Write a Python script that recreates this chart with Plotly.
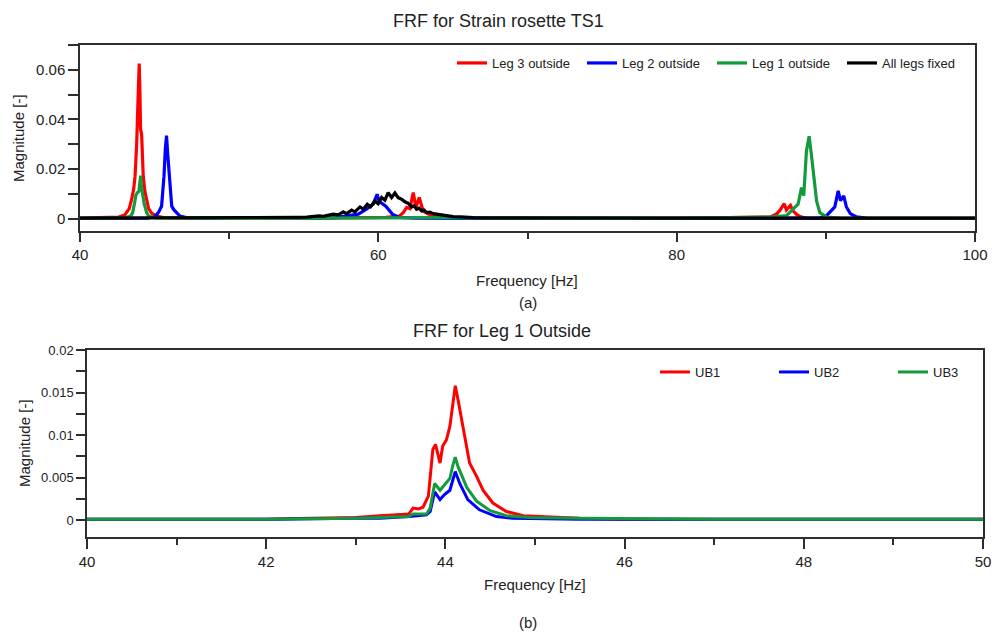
import plotly.graph_objects as go

W, H = 997, 632

# ---------------- Panel (a): FRF for Strain rosette TS1 ----------------
f_red = [40, 42.0, 42.6, 43.0, 43.3, 43.46, 43.6, 43.69, 43.8, 43.9,
         43.97, 44.02, 44.06, 44.13, 44.24, 44.35, 44.47, 44.6, 44.8, 45.1,
         45.6, 48, 55, 59, 60.5, 61.4, 61.67, 61.9, 62.12, 62.34,
         62.52, 62.74, 63.01, 63.35, 63.9, 65, 70, 80, 86.25, 86.7,
         86.92, 87.21, 87.36, 87.63, 87.81, 88.08, 88.37, 88.7, 90, 100]
m_red = [0.0002, 0.0003, 0.0006, 0.0015, 0.004, 0.0077, 0.012, 0.017, 0.03, 0.05,
         0.0625, 0.05, 0.036, 0.034, 0.017, 0.011, 0.0077, 0.004, 0.0022, 0.001,
         0.0004, 0.0002, 0.0002, 0.0004, 0.0005, 0.001, 0.0024, 0.0045, 0.004, 0.0105,
         0.0045, 0.0085, 0.003, 0.0018, 0.0008, 0.0003, 0.0001, 0.0001, 0.0006, 0.0019,
         0.0033, 0.006, 0.0035, 0.0053, 0.003, 0.0015, 0.0006, 0.0002, 0.0001, 0.0001]

f_blue = [40, 44.5, 45.0, 45.25, 45.47, 45.63, 45.72, 45.8, 45.88, 45.99,
          46.15, 46.3, 46.48, 46.7, 47.2, 52, 57, 58.66, 59.2, 59.65,
          59.92, 60.05, 60.5, 60.94, 61.4, 62.5, 66, 80, 89.6, 90.05,
          90.38, 90.6, 90.83, 90.98, 91.2, 91.38, 91.64, 92.05, 92.7, 100]
m_blue = [0.0001, 0.0002, 0.0006, 0.0024, 0.005, 0.017, 0.028, 0.0335, 0.026, 0.017,
          0.005, 0.0035, 0.0024, 0.001, 0.0003, 0.0001, 0.0003, 0.0018, 0.0038, 0.0058,
          0.0098, 0.007, 0.005, 0.0018, 0.0005, 0.0002, 0.0001, 0.0001, 0.0002, 0.0012,
          0.0033, 0.0047, 0.0112, 0.0072, 0.0092, 0.0047, 0.002, 0.0007, 0.0002, 0.0001]

f_green = [40, 43.0, 43.4, 43.53, 43.65, 43.75, 43.85, 43.95, 44.0, 44.07,
           44.12, 44.2, 44.3, 44.47, 44.6, 45.0, 50, 56, 60, 64,
           68, 80, 86.25, 87.36, 87.92, 88.14, 88.37, 88.52, 88.7, 88.88,
           89.03, 89.2, 89.38, 89.6, 90.05, 90.94, 100]
m_green = [0.0001, 0.0003, 0.001, 0.0024, 0.006, 0.0095, 0.0105, 0.011, 0.014, 0.0173,
           0.013, 0.01, 0.006, 0.0024, 0.001, 0.0003, 0.0001, 0.0002, 0.0004, 0.0004,
           0.0002, 0.0001, 0.0006, 0.0012, 0.0045, 0.0058, 0.0125, 0.0093, 0.0273, 0.0332,
           0.0259, 0.0153, 0.0071, 0.0024, 0.0006, 0.0002, 0.0001]

f_black = [40, 44, 48, 50, 52, 53.5, 54.5, 55.2, 55.64, 56.0,
           56.31, 56.6, 56.98, 57.31, 57.65, 57.87, 58.21, 58.43, 58.77, 58.99,
           59.26, 59.48, 59.77, 59.99, 60.22, 60.44, 60.66, 60.89, 61.11, 61.33,
           61.56, 61.78, 62.0, 62.23, 62.4, 62.56, 62.73, 62.9, 63.07, 63.24,
           63.46, 63.68, 64.13, 64.5, 65.02, 65.5, 66.36, 68, 72, 80,
           90, 100]
m_black = [0.0002, 0.0002, 0.0002, 0.0003, 0.0003, 0.0004, 0.0005, 0.0006, 0.0008, 0.0011,
           0.0009, 0.0014, 0.0018, 0.0015, 0.0027, 0.002, 0.0034, 0.0027, 0.0047, 0.0038,
           0.0058, 0.0048, 0.0071, 0.006, 0.0085, 0.0074, 0.0105, 0.0085, 0.0103, 0.0084,
           0.0078, 0.0068, 0.0062, 0.0047, 0.0052, 0.0038, 0.0042, 0.0031, 0.0034, 0.0024,
           0.0026, 0.002, 0.0015, 0.0013, 0.0008, 0.0007, 0.0004, 0.0003, 0.0002, 0.0002,
           0.0002, 0.0002]

names_a = ["Leg 3 outside", "Leg 2 outside", "Leg 1 outside", "All legs fixed"]
xticks_a = [40, 60, 80, 100]
yticks_a = [0, 0.02, 0.04, 0.06]
yticklabels_a = ["0", "0.02", "0.04", "0.06"]

# ---------------- Panel (b): FRF for Leg 1 Outside ----------------
f_ub1 = [40, 41, 42, 42.5, 43.0, 43.27, 43.42, 43.59, 43.64, 43.7,
         43.75, 43.81, 43.86, 43.89, 43.94, 43.97, 44.01, 44.05, 44.07, 44.11,
         44.14, 44.2, 44.27, 44.35, 44.42, 44.53, 44.68, 44.87, 45.2, 45.5,
         46, 47, 48, 49, 50]
m_ub1 = [0.0001, 0.0001, 0.0001, 0.0002, 0.0003, 0.0005, 0.0006, 0.0007, 0.0014, 0.0013,
         0.0015, 0.0028, 0.0083, 0.0089, 0.0067, 0.0087, 0.0094, 0.011, 0.0126, 0.0158,
         0.0142, 0.0106, 0.0067, 0.0051, 0.0035, 0.002, 0.001, 0.0005, 0.0003, 0.0002,
         0.0001, 0.0001, 0.0001, 0.0001, 0.0001]

f_ub2 = [40, 42, 43.0, 43.27, 43.6, 43.79, 43.83, 43.88, 43.94, 43.99,
         44.05, 44.11, 44.16, 44.25, 44.38, 44.57, 44.75, 45.5, 47, 50]
m_ub2 = [0.0001, 0.0001, 0.0002, 0.0002, 0.0004, 0.0006, 0.001, 0.0033, 0.0024, 0.003,
         0.0035, 0.0057, 0.0043, 0.0024, 0.0012, 0.0004, 0.0002, 0.0001, 0.0001, 0.0001]

f_ub3 = [40, 42, 43.0, 43.27, 43.59, 43.64, 43.79, 43.83, 43.88, 43.94,
         43.99, 44.05, 44.08, 44.11, 44.14, 44.24, 44.35, 44.5, 44.68, 44.94,
         45.5, 47, 50]
m_ub3 = [0.0001, 0.0001, 0.0002, 0.0003, 0.0004, 0.0007, 0.0007, 0.0014, 0.0043, 0.0035,
         0.0041, 0.0049, 0.0063, 0.0074, 0.0063, 0.0038, 0.0022, 0.0011, 0.0005, 0.0003,
         0.0002, 0.0001, 0.0001]

names_b = ["UB1", "UB2", "UB3"]
xticks_b = [40, 42, 44, 46, 48, 50]
yticks_b = [0, 0.005, 0.01, 0.015, 0.02]
yticklabels_b = ["0", "0.005", "0.01", "0.015", "0.02"]

RED, BLUE, GREEN, BLACK = "#ff0000", "#0000ff", "#129a3c", "#000000"
AX = "#2e2e2e"
FONT = "Liberation Sans, Arial, sans-serif"

fig = go.Figure()
for f, m, n, c in [(f_red, m_red, names_a[0], RED), (f_blue, m_blue, names_a[1], BLUE),
                   (f_green, m_green, names_a[2], GREEN), (f_black, m_black, names_a[3], BLACK)]:
    fig.add_trace(go.Scatter(x=f, y=m, name=n, mode="lines", line=dict(color=c, width=3.2),
                             xaxis="x", yaxis="y", legend="legend"))
for f, m, n, c in [(f_ub1, m_ub1, names_b[0], RED), (f_ub2, m_ub2, names_b[1], BLUE),
                   (f_ub3, m_ub3, names_b[2], GREEN)]:
    fig.add_trace(go.Scatter(x=f, y=m, name=n, mode="lines", line=dict(color=c, width=3),
                             xaxis="x2", yaxis="y2", legend="legend2"))


def px_x(p):
    return p / W


def px_y(p):
    return 1 - p / H


dom_xa = [px_x(80), px_x(975)]
dom_ya = [px_y(231), px_y(45)]
dom_xb = [px_x(87), px_x(983)]
dom_yb = [px_y(537), px_y(350)]

common = dict(showgrid=False, zeroline=False, showline=True, linecolor=AX, linewidth=1.5,
              tickcolor=AX, tickwidth=1.5, tickfont=dict(family=FONT, size=15, color="#222"),
              automargin=False)

fig.update_layout(
    width=W, height=H, margin=dict(l=0, r=0, t=0, b=0, autoexpand=False),
    paper_bgcolor="white", plot_bgcolor="white",
    font=dict(family=FONT, color="#222"),
    xaxis=dict(domain=dom_xa, anchor="y", range=[40, 100], mirror=True, ticks="outside",
               tickmode="array", tickvals=xticks_a, ticklen=9,
               minor=dict(tickmode="array", tickvals=[50, 70, 90], ticks="outside", ticklen=6,
                          tickcolor=AX, tickwidth=1.5),
               **common),
    yaxis=dict(domain=dom_ya, anchor="x", range=[-0.005, 0.07], mirror=True, ticks="outside",
               tickmode="array", tickvals=yticks_a, ticktext=yticklabels_a, ticklen=10,
               minor=dict(tickmode="array", tickvals=[0.01, 0.03, 0.05, 0.07], ticks="outside",
                          ticklen=10, tickcolor=AX, tickwidth=1.5),
               **common),
    xaxis3=dict(overlaying="x", anchor="y", side="top", range=[40, 100], showgrid=False,
                zeroline=False, showline=False, showticklabels=False, ticks="inside",
                tickmode="array", tickvals=[55, 85], ticklen=17, tickcolor=AX, tickwidth=1.5,
                minor=dict(tickmode="array", tickvals=[47.5, 62.5, 70, 77.5, 92.5],
                           ticks="inside", ticklen=9, tickcolor=AX, tickwidth=1.5)),
    yaxis3=dict(overlaying="y", anchor="x", side="right", range=[-0.005, 0.07], showgrid=False,
                zeroline=False, showline=False, showticklabels=False, ticks="inside",
                tickmode="array", tickvals=[0.01, 0.025, 0.04, 0.055], ticklen=18,
                tickcolor=AX, tickwidth=1.5,
                minor=dict(tickmode="array", tickvals=[0.0025, 0.0175, 0.0325, 0.0475, 0.0625],
                           ticks="inside", ticklen=10, tickcolor=AX, tickwidth=1.5)),
    xaxis2=dict(domain=dom_xb, anchor="y2", range=[40, 50], mirror=True, ticks="outside",
                tickmode="array", tickvals=xticks_b, ticklen=10,
                minor=dict(tickmode="array", tickvals=[41, 43, 45, 47, 49], ticks="outside",
                           ticklen=6, tickcolor=AX, tickwidth=1.5),
                **common),
    yaxis2=dict(domain=dom_yb, anchor="x2", range=[-0.002, 0.02], mirror=True, ticks="outside",
                tickmode="array", tickvals=yticks_b, ticktext=yticklabels_b, ticklen=9,
                minor=dict(tickmode="array", tickvals=[0.0025, 0.0075, 0.0125, 0.0175],
                           ticks="outside", ticklen=9, tickcolor=AX, tickwidth=1.5),
                **{k: v for k, v in common.items() if k != "tickfont"},
                tickfont=dict(family=FONT, size=13, color="#222")),
    xaxis4=dict(overlaying="x2", anchor="y2", side="top", range=[40, 50], showgrid=False,
                zeroline=False, showline=False, showticklabels=False, ticks="inside",
                tickmode="array", tickvals=[42.5, 45, 47.5], ticklen=18, tickcolor=AX,
                tickwidth=1.5,
                minor=dict(tickmode="array", tickvals=[41.25, 43.75, 46.25, 48.75],
                           ticks="inside", ticklen=10, tickcolor=AX, tickwidth=1.5)),
    yaxis4=dict(overlaying="y2", anchor="x2", side="right", range=[-0.002, 0.02], showgrid=False,
                zeroline=False, showline=False, showticklabels=False, ticks="inside",
                tickmode="array", tickvals=[0.0025, 0.007, 0.016], ticklen=19, tickcolor=AX,
                tickwidth=1.5,
                minor=dict(tickmode="array",
                           tickvals=[0.00025, 0.00475, 0.00925, 0.0115, 0.01375, 0.01825],
                           ticks="inside", ticklen=9, tickcolor=AX, tickwidth=1.5)),
    legend=dict(orientation="h", x=px_x(452), xanchor="left", y=px_y(48), yanchor="top",
                entrywidth=85, entrywidthmode="pixels", itemwidth=30,
                font=dict(family=FONT, size=13, color="#222"), bgcolor="rgba(0,0,0,0)"),
    legend2=dict(orientation="h", x=px_x(655), xanchor="left", y=px_y(357), yanchor="top",
                 entrywidth=74, entrywidthmode="pixels", itemwidth=30,
                 font=dict(family=FONT, size=13, color="#222"), bgcolor="rgba(0,0,0,0)"),
)

annos = [
    dict(text="FRF for Strain rosette TS1", x=px_x(498), y=px_y(21), size=18, angle=0),
    dict(text="FRF for Leg 1 Outside", x=px_x(502), y=px_y(331), size=18, angle=0),
    dict(text="Frequency [Hz]", x=px_x(527), y=px_y(281), size=15, angle=0),
    dict(text="(a)", x=px_x(528), y=px_y(302), size=15, angle=0),
    dict(text="Frequency [Hz]", x=px_x(535), y=px_y(584), size=15, angle=0),
    dict(text="(b)", x=px_x(528), y=px_y(622), size=15, angle=0),
    dict(text="Magnitude [-]", x=px_x(18), y=px_y(138), size=15, angle=-90),
    dict(text="Magnitude [-]", x=px_x(24), y=px_y(443), size=15, angle=-90),
]
for a in annos:
    fig.add_annotation(text=a["text"], x=a["x"], y=a["y"], xref="paper", yref="paper",
                       xanchor="center", yanchor="middle", showarrow=False, textangle=a["angle"],
                       font=dict(family=FONT, size=a["size"], color="#222"))

fig.write_html("out.html", config={"displayModeBar": False},
               post_script="document.body.style.margin='0';document.body.style.overflow='hidden';")
